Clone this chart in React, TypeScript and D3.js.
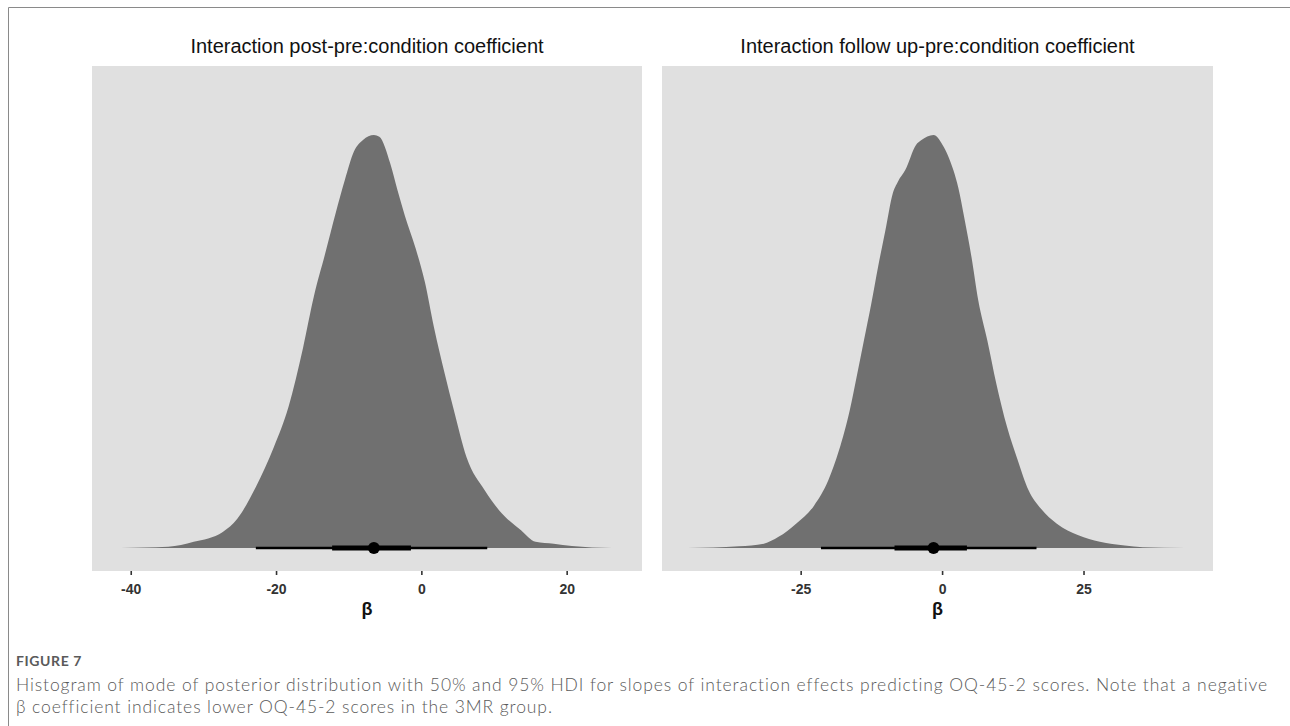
import React from "react";
import * as d3 from "d3";

// density outlines: beta value and relative height (peak = 1)
const postX = [-41.4, -34.9, -31.4, -27.4, -25.4, -22.85, -20.35, -18.35, -16.35, -14.85, -13.35, -11.85, -10.6, -9.35, -8.1, -6.6, -5.85, -4.35, -3.35, -2.35, -0.85, 0.4, 1.65, 3.15, 4.4, 6.15, 8.65, 10.65, 13.65, 15.65, 18.15, 20.65, 26.2];
const postY = [0, 0.003, 0.015, 0.039, 0.071, 0.148, 0.245, 0.342, 0.485, 0.61, 0.71, 0.812, 0.891, 0.96, 0.988, 1.0, 0.996, 0.931, 0.866, 0.805, 0.725, 0.645, 0.536, 0.422, 0.334, 0.22, 0.14, 0.091, 0.043, 0.015, 0.0105, 0.005, 0];

const followX = [-45.1, -36, -31.6, -29, -25.9, -22.7, -20.2, -18.3, -16.4, -15.2, -13.9, -12.6, -11.4, -10.1, -8.8, -7.9, -6.6, -4.7, -3.8, -1.6, 0, 1.9, 2.8, 3.8, 5.1, 6.3, 7.9, 9.5, 11.4, 13.3, 15.2, 17.4, 20.2, 24, 27.8, 32.2, 35.4, 42.9];
const followY = [0, 0.004, 0.0105, 0.027, 0.059, 0.103, 0.164, 0.237, 0.334, 0.414, 0.503, 0.592, 0.681, 0.77, 0.859, 0.887, 0.915, 0.976, 0.987, 1.0, 0.976, 0.915, 0.871, 0.802, 0.705, 0.6, 0.503, 0.398, 0.293, 0.212, 0.14, 0.095, 0.059, 0.031, 0.015, 0.006, 0.002, 0];

// mode, 50% HDI, 95% HDI
const postMode = -6.6;
const postHdi50 = [-12.35, -1.5];
const postHdi95 = [-22.85, 9.0];
const followMode = -1.6;
const followHdi50 = [-8.5, 4.3];
const followHdi95 = [-21.5, 16.6];

const postTicks = [-40, -20, 0, 20];
const followTicks = [-25, 0, 25];

const titles = ["Interaction post-pre:condition coefficient", "Interaction follow up-pre:condition coefficient"];

const captionHead = "FIGURE 7";
const captionLines = [
  "Histogram of mode of posterior distribution with 50% and 95% HDI for slopes of interaction effects predicting OQ-45-2 scores. Note that a negative",
  "β coefficient indicates lower OQ-45-2 scores in the 3MR group.",
];

const panels = [
  { title: titles[0], xs: postX, ys: postY, mode: postMode, h50: postHdi50, h95: postHdi95, ticks: postTicks, domain: [-45.4, 30.3], left: 92, right: 642 },
  { title: titles[1], xs: followX, ys: followY, mode: followMode, h50: followHdi50, h95: followHdi95, ticks: followTicks, domain: [-49.6, 47.8], left: 662, right: 1213 },
];

const top = 66;
const bottom = 571;
const base = 548;
const peak = 135;

function Panel({ p }: { p: typeof panels[0] }) {
  const x = d3.scaleLinear().domain(p.domain).range([p.left, p.right]);
  const y = d3.scaleLinear().domain([0, 1]).range([base, peak]);
  const pts = p.xs.map((v, i) => [v, p.ys[i]] as [number, number]);
  const area = d3.area<[number, number]>()
    .x(d => x(d[0]))
    .y0(base)
    .y1(d => y(d[1]))
    .curve(d3.curveMonotoneX);
  const cx = (p.left + p.right) / 2;
  return (
    <g>
      <text x={cx} y={53} textAnchor="middle" fontFamily="'Liberation Sans', Arial, sans-serif" fontSize={20} fill="#111">{p.title}</text>
      <rect x={p.left} y={top} width={p.right - p.left} height={bottom - top} fill="#e0e0e0" />
      <path d={area(pts) || ""} fill="#707070" />
      <line x1={x(p.h95[0])} x2={x(p.h95[1])} y1={base} y2={base} stroke="#000" strokeWidth={2.7} />
      <line x1={x(p.h50[0])} x2={x(p.h50[1])} y1={base} y2={base} stroke="#000" strokeWidth={5} />
      <circle cx={x(p.mode)} cy={base} r={6} fill="#000" />
      {p.ticks.map(t => (
        <g key={t}>
          <line x1={x(t)} x2={x(t)} y1={bottom} y2={bottom + 4} stroke="#333" strokeWidth={1.6} />
          <text x={x(t)} y={594} textAnchor="middle" fontFamily="'Liberation Sans', Arial, sans-serif" fontSize={14} fontWeight="bold" fill="#333">{t}</text>
        </g>
      ))}
      <text x={cx} y={615} textAnchor="middle" fontFamily="'Liberation Sans', Arial, sans-serif" fontSize={18} fontWeight="bold" fill="#111">β</text>
    </g>
  );
}

export default function App() {
  return (
    <svg width={1290} height={726} style={{ position: "absolute", left: 0, top: 0, background: "#fff" }}>
      <path d="M8.5,726 V7.5 H1290" fill="none" stroke="#8a8a8a" strokeWidth={1} />
      {panels.map((p, i) => <Panel key={i} p={p} />)}
      <g fontFamily="Lato, 'Open Sans', sans-serif" fill="#5a5a5a">
        <text x={16} y={666} fontSize={14} fontWeight="bold" letterSpacing={0.6}>{captionHead}</text>
        {captionLines.map((l, i) => (
          <text key={i} x={16} y={691 + i * 22} fontSize={17.5} fontWeight={300} letterSpacing={0.9}>{l}</text>
        ))}
      </g>
    </svg>
  );
}
